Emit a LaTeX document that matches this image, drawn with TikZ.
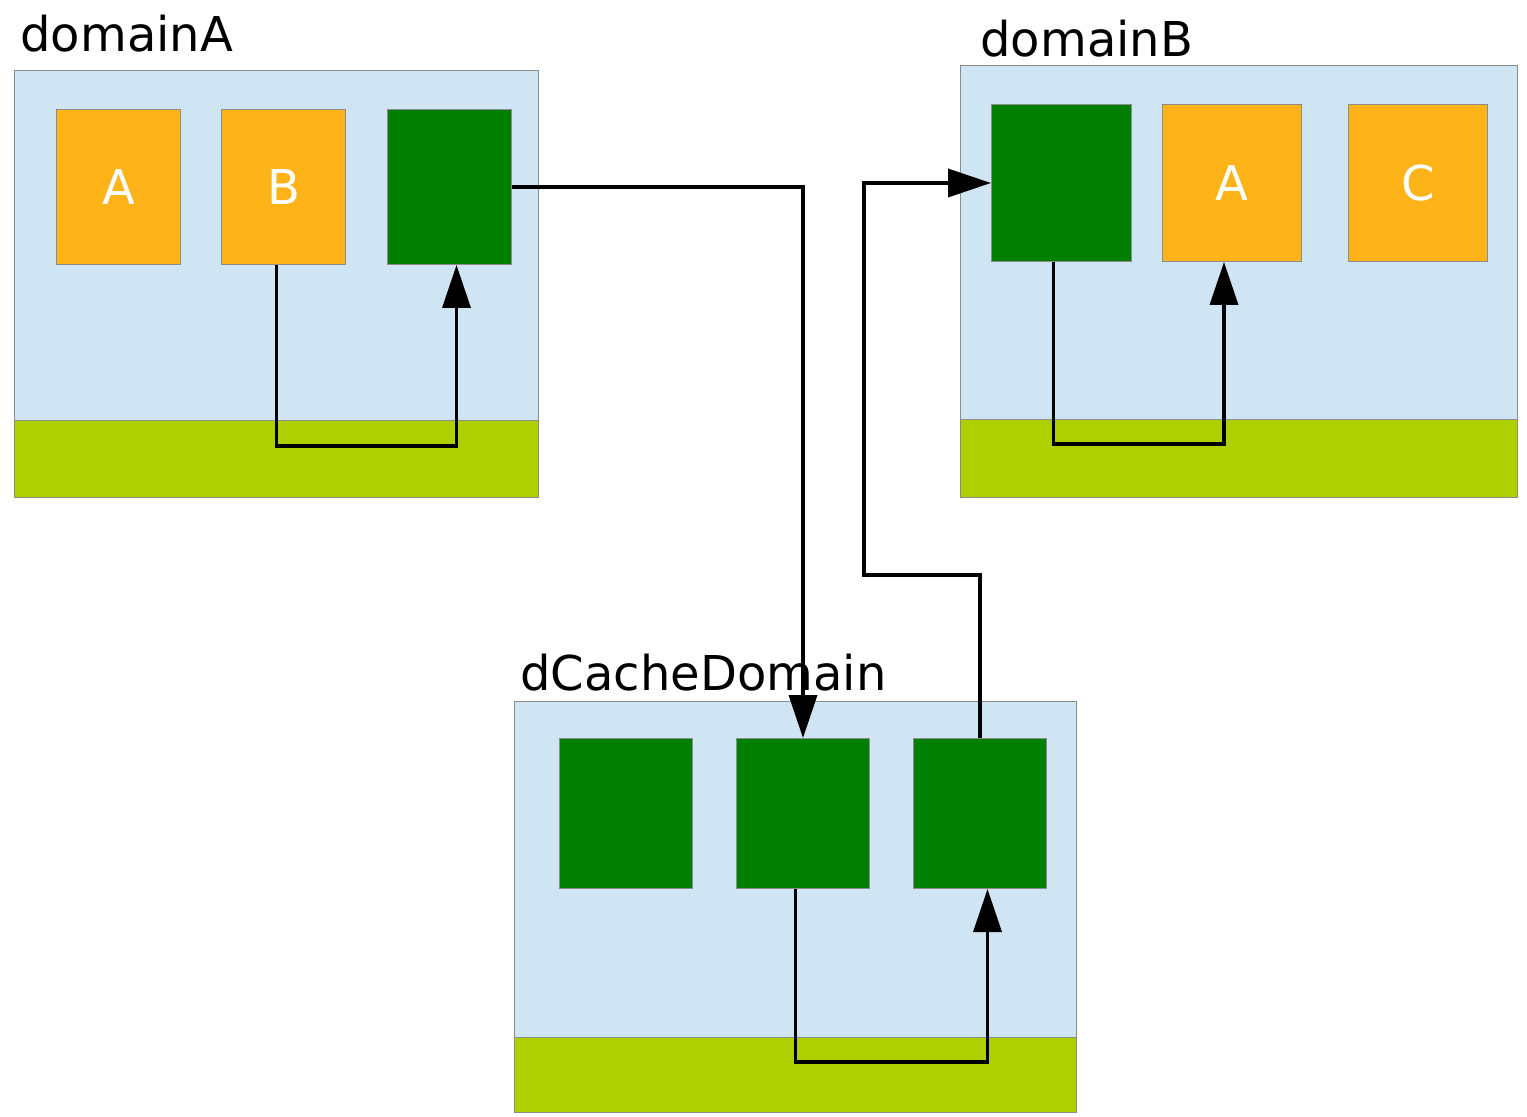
\documentclass[tikz,border=0pt]{standalone}
\usepackage{fontspec}
\setmainfont{DejaVu Sans}
\usetikzlibrary{arrows.meta}
\definecolor{paneblue}{HTML}{CFE5F3}
\definecolor{bandgreen}{HTML}{AED000}
\definecolor{cellorange}{HTML}{FEB418}
\definecolor{celldark}{HTML}{007E00}
\definecolor{rim}{HTML}{8C8C8C}
\begin{document}
\begin{tikzpicture}[x=0.5pt,y=-0.5pt,
  pane/.style={draw=rim,line width=0.5pt,fill=paneblue,anchor=north west,inner sep=0pt},
  band/.style={draw=rim,line width=0.5pt,fill=bandgreen,anchor=north west,inner sep=0pt},
  cell/.style={draw=rim,line width=0.5pt,anchor=north west,inner sep=0pt,text=white,font=\fontsize{24}{29}\selectfont},
  orangecell/.style={cell,fill=cellorange},
  greencell/.style={cell,fill=celldark},
  title/.style={anchor=base west,inner sep=0pt,font=\fontsize{24}{29}\selectfont},
  link/.style={line width=1.8pt,-{Triangle[length=21.5pt,width=14pt]},line join=miter}
]
\useasboundingbox (0,0) rectangle (1527,1117);

% domainA
\node[title] (tA) at (20,52) {domainA};
\node[pane,minimum width=262pt,minimum height=213.5pt] (pA) at (14,70) {};
\node[band,minimum width=262pt,minimum height=38.5pt] (bA) at (14,420) {};
\node[orangecell,minimum width=62pt,minimum height=77.5pt] (aA) at (56,109) {A};
\node[orangecell,minimum width=62pt,minimum height=77.5pt] (aB) at (221,109) {B};
\node[greencell,minimum width=62pt,minimum height=77.5pt] (aG) at (387,109) {};

% domainB
\node[title] (tB) at (980,57) {domainB};
\node[pane,minimum width=278.5pt,minimum height=216pt] (pB) at (960,65) {};
\node[band,minimum width=278.5pt,minimum height=39pt] (bB) at (960,419) {};
\node[greencell,minimum width=70pt,minimum height=78.5pt] (bG) at (991,104) {};
\node[orangecell,minimum width=69.5pt,minimum height=78.5pt] (bA) at (1162,104) {A};
\node[orangecell,minimum width=69.5pt,minimum height=78.5pt] (bC) at (1348,104) {C};

% dCacheDomain
\node[title] (tC) at (520,690) {dCacheDomain};
\node[pane,minimum width=281pt,minimum height=205.5pt] (pC) at (514,701) {};
\node[band,minimum width=281pt,minimum height=37.5pt] (bndC) at (514,1037) {};
\node[greencell,minimum width=66.5pt,minimum height=75pt] (c1) at (559,738) {};
\node[greencell,minimum width=66.5pt,minimum height=75pt] (c2) at (736,738) {};
\node[greencell,minimum width=66.5pt,minimum height=75pt] (c3) at (913,738) {};

% helper coordinates
\coordinate (lowA) at (0,446);
\coordinate (lowB) at (0,444);
\coordinate (lowC) at (0,1062);
\coordinate (bend) at (864,575);

% connectors
\draw[link] ([xshift=-3.5pt]aB.south) -- ([xshift=-3.5pt]aB.south |- lowA) -| ([xshift=3.5pt]aG.south);
\draw[link] (aG.east) -| (c2.north);
\draw[link] ([xshift=-4pt]bG.south) -- ([xshift=-4pt]bG.south |- lowB) -| ([xshift=-4pt]bA.south);
\draw[link] ([xshift=-3.75pt]c2.south) -- ([xshift=-3.75pt]c2.south |- lowC) -| ([xshift=3.75pt]c3.south);
\draw[link] (c3.north) |- (bend) |- (bG.west);
\end{tikzpicture}
\end{document}
